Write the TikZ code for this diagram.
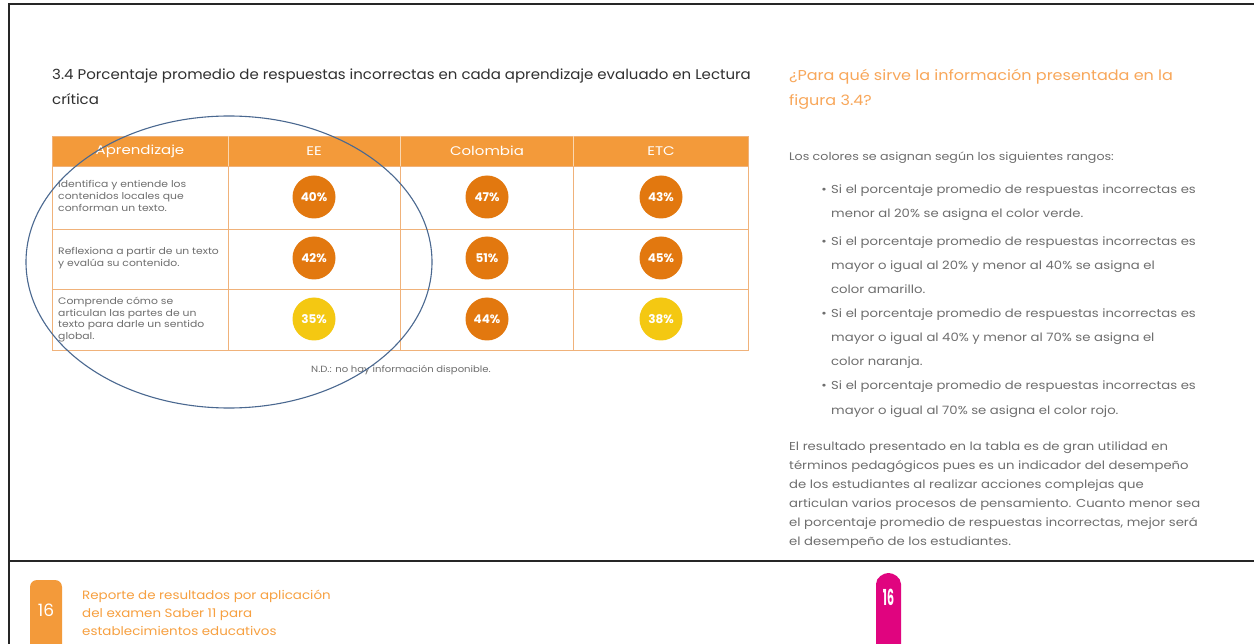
\documentclass[tikz,border=0pt]{standalone}
\usepackage{fontspec}
\setmainfont{Poppins}
\newfontfamily\fA{Poppins}[FakeStretch=1.07]
\newfontfamily\fB{Poppins}[FakeStretch=1.12]
\newfontfamily\fC{Poppins}[FakeStretch=1.15]
\newfontfamily\fD{Poppins}[FakeStretch=1.2]
\definecolor{hdr}{HTML}{F39A3A}
\definecolor{gridc}{HTML}{F0B27A}
\definecolor{dko}{HTML}{E2780F}
\definecolor{ylw}{HTML}{F4C812}
\definecolor{heado}{HTML}{F8A75A}
\definecolor{gtx}{HTML}{6E6E6E}
\definecolor{titc}{HTML}{303030}
\definecolor{blu}{HTML}{4A6890}
\definecolor{mag}{HTML}{E0047F}
\definecolor{footo}{HTML}{F7A040}
\begin{document}
\begin{tikzpicture}[x=1pt,y=-1pt,
  ttl/.style={anchor=base west, inner sep=0pt, text=titc, font=\fA\fontsize{14}{16}\selectfont},
  qhead/.style={anchor=base west, inner sep=0pt, text=heado, font=\fB\fontsize{14.3}{16}\selectfont},
  body/.style={anchor=base west, inner sep=0pt, text=gtx, font=\fC\fontsize{11.5}{13}\selectfont},
  cell/.style={anchor=base west, inner sep=0pt, text=gtx, font=\fC\fontsize{9.4}{10}\selectfont},
  hcell/.style={inner sep=0pt, text=white, font=\fD\fontsize{12.5}{13}\selectfont},
  dot/.style={circle, inner sep=0pt, minimum size=43pt, text=white, font=\bfseries\fontsize{12}{12}\selectfont},
  foot/.style={anchor=base west, inner sep=0pt, text=footo, font=\fB\fontsize{12}{12}\selectfont},
  frame/.style={line width=2pt, black!85}]
\useasboundingbox[fill=white] (0,0) rectangle (1254,644);
% frame
\draw[frame] (9,650) -- (9,4) -- (1260,4);
\draw[frame] (9,561) -- (1260,561);
% title
\node[ttl] (t1) at (52,80) {3.4 Porcentaje promedio de respuestas incorrectas en cada aprendizaje evaluado en Lectura};
\node[ttl] (t2) at (52,105) {crítica};
% table
\fill[hdr] (52,136) rectangle (748,166);
\draw[gridc, line width=0.8pt] (52,166) -- (748,166) (52,229) -- (748,229) (52,289) -- (748,289);
\draw[gridc, line width=0.8pt] (52,136) rectangle (748,350);
\foreach \cx in {228,400,573} {
  \draw[white!60!hdr, line width=0.8pt] (\cx,136) -- (\cx,166);
  \draw[gridc, line width=0.8pt] (\cx,166) -- (\cx,350);
}
\node[hcell] (h1) at (140,151) {Aprendizaje};
\node[hcell] (h2) at (314,151) {EE};
\node[hcell] (h3) at (487,151) {Colombia};
\node[hcell] (h4) at (661,151) {ETC};
% row texts
\node[cell] (r1a) at (58,188) {Identifica y entiende los};
\node[cell] (r1b) at (58,200) {contenidos locales que};
\node[cell] (r1c) at (58,212) {conforman un texto.};
\node[cell] (r2a) at (58,255) {Reflexiona a partir de un texto};
\node[cell] (r2b) at (58,267) {y evalúa su contenido.};
\node[cell] (r3a) at (58,305) {Comprende cómo se};
\node[cell] (r3b) at (58,316.5) {articulan las partes de un};
\node[cell] (r3c) at (58,328) {texto para darle un sentido};
\node[cell] (r3d) at (58,339.5) {global.};
% circles
\node[dot, fill=dko] (c11) at (314,197) {40\%};
\node[dot, fill=dko] (c12) at (487,197) {47\%};
\node[dot, fill=dko] (c13) at (661,197) {43\%};
\node[dot, fill=dko] (c21) at (314,258) {42\%};
\node[dot, fill=dko] (c22) at (487,258) {51\%};
\node[dot, fill=dko] (c23) at (661,258) {45\%};
\node[dot, fill=ylw] (c31) at (314,319) {35\%};
\node[dot, fill=dko] (c32) at (487,319) {44\%};
\node[dot, fill=ylw] (c33) at (661,319) {38\%};
\node[inner sep=0pt, text=gtx, font=\fB\fontsize{9}{9}\selectfont] (nd) at (401,370) {N.D.: no hay información disponible.};
% ellipse
\draw[blu, line width=1.1pt] (229,262) ellipse [x radius=203pt, y radius=146pt];
% right column
\node[qhead] (q1) at (789,81) {¿Para qué sirve la información presentada en la};
\node[qhead] (q2) at (789,106) {figura 3.4?};
\node[body, font=\fC\fontsize{11}{13}\selectfont] (b0) at (789,161) {Los colores se asignan según los siguientes rangos:};
\foreach \yy in {194,246,318,390} \node[body, anchor=base] (bl\yy) at (824,\yy) {•};
\node[body] (b1) at (831,194) {Si el porcentaje promedio de respuestas incorrectas es};
\node[body] (b2) at (831,218) {menor al 20\% se asigna el color verde.};
\node[body] (b3) at (831,246) {Si el porcentaje promedio de respuestas incorrectas es};
\node[body] (b4) at (831,270) {mayor o igual al 20\% y menor al 40\% se asigna el};
\node[body] (b5) at (831,294) {color amarillo.};
\node[body] (b6) at (831,318) {Si el porcentaje promedio de respuestas incorrectas es};
\node[body] (b7) at (831,342) {mayor o igual al 40\% y menor al 70\% se asigna el};
\node[body] (b8) at (831,366) {color naranja.};
\node[body] (b9) at (831,390) {Si el porcentaje promedio de respuestas incorrectas es};
\node[body] (b10) at (831,414) {mayor o igual al 70\% se asigna el color rojo.};
\node[body] (p1) at (789,450) {El resultado presentado en la tabla es de gran utilidad en};
\node[body] (p2) at (789,469) {términos pedagógicos pues es un indicador del desempeño};
\node[body] (p3) at (789,488) {de los estudiantes al realizar acciones complejas que};
\node[body] (p4) at (789,507) {articulan varios procesos de pensamiento. Cuanto menor sea};
\node[body] (p5) at (789,526) {el porcentaje promedio de respuestas incorrectas, mejor será};
\node[body] (p6) at (789,545) {el desempeño de los estudiantes.};
% footer
\fill[hdr, rounded corners=7pt] (30,660) rectangle (62,580);
\node[inner sep=0pt, text=white, font=\fontsize{17}{17}\selectfont] (pgl) at (46,610) {16};
\node[foot] (f1) at (82,599) {Reporte de resultados por aplicación};
\node[foot] (f2) at (82,617) {del examen Saber 11 para};
\node[foot] (f3) at (82,635) {establecimientos educativos};
\fill[mag] (876,650) -- (876,584) .. controls (876,577) and (884,573) .. (888.5,573) .. controls (893,573) and (901,577) .. (901,584) -- (901,650) -- cycle;
\node[inner sep=0pt, text=white, font=\bfseries\fontsize{22}{22}\selectfont] (pgr) at (888.5,597) {\scalebox{0.5}[1]{16}};
\end{tikzpicture}
\end{document}
